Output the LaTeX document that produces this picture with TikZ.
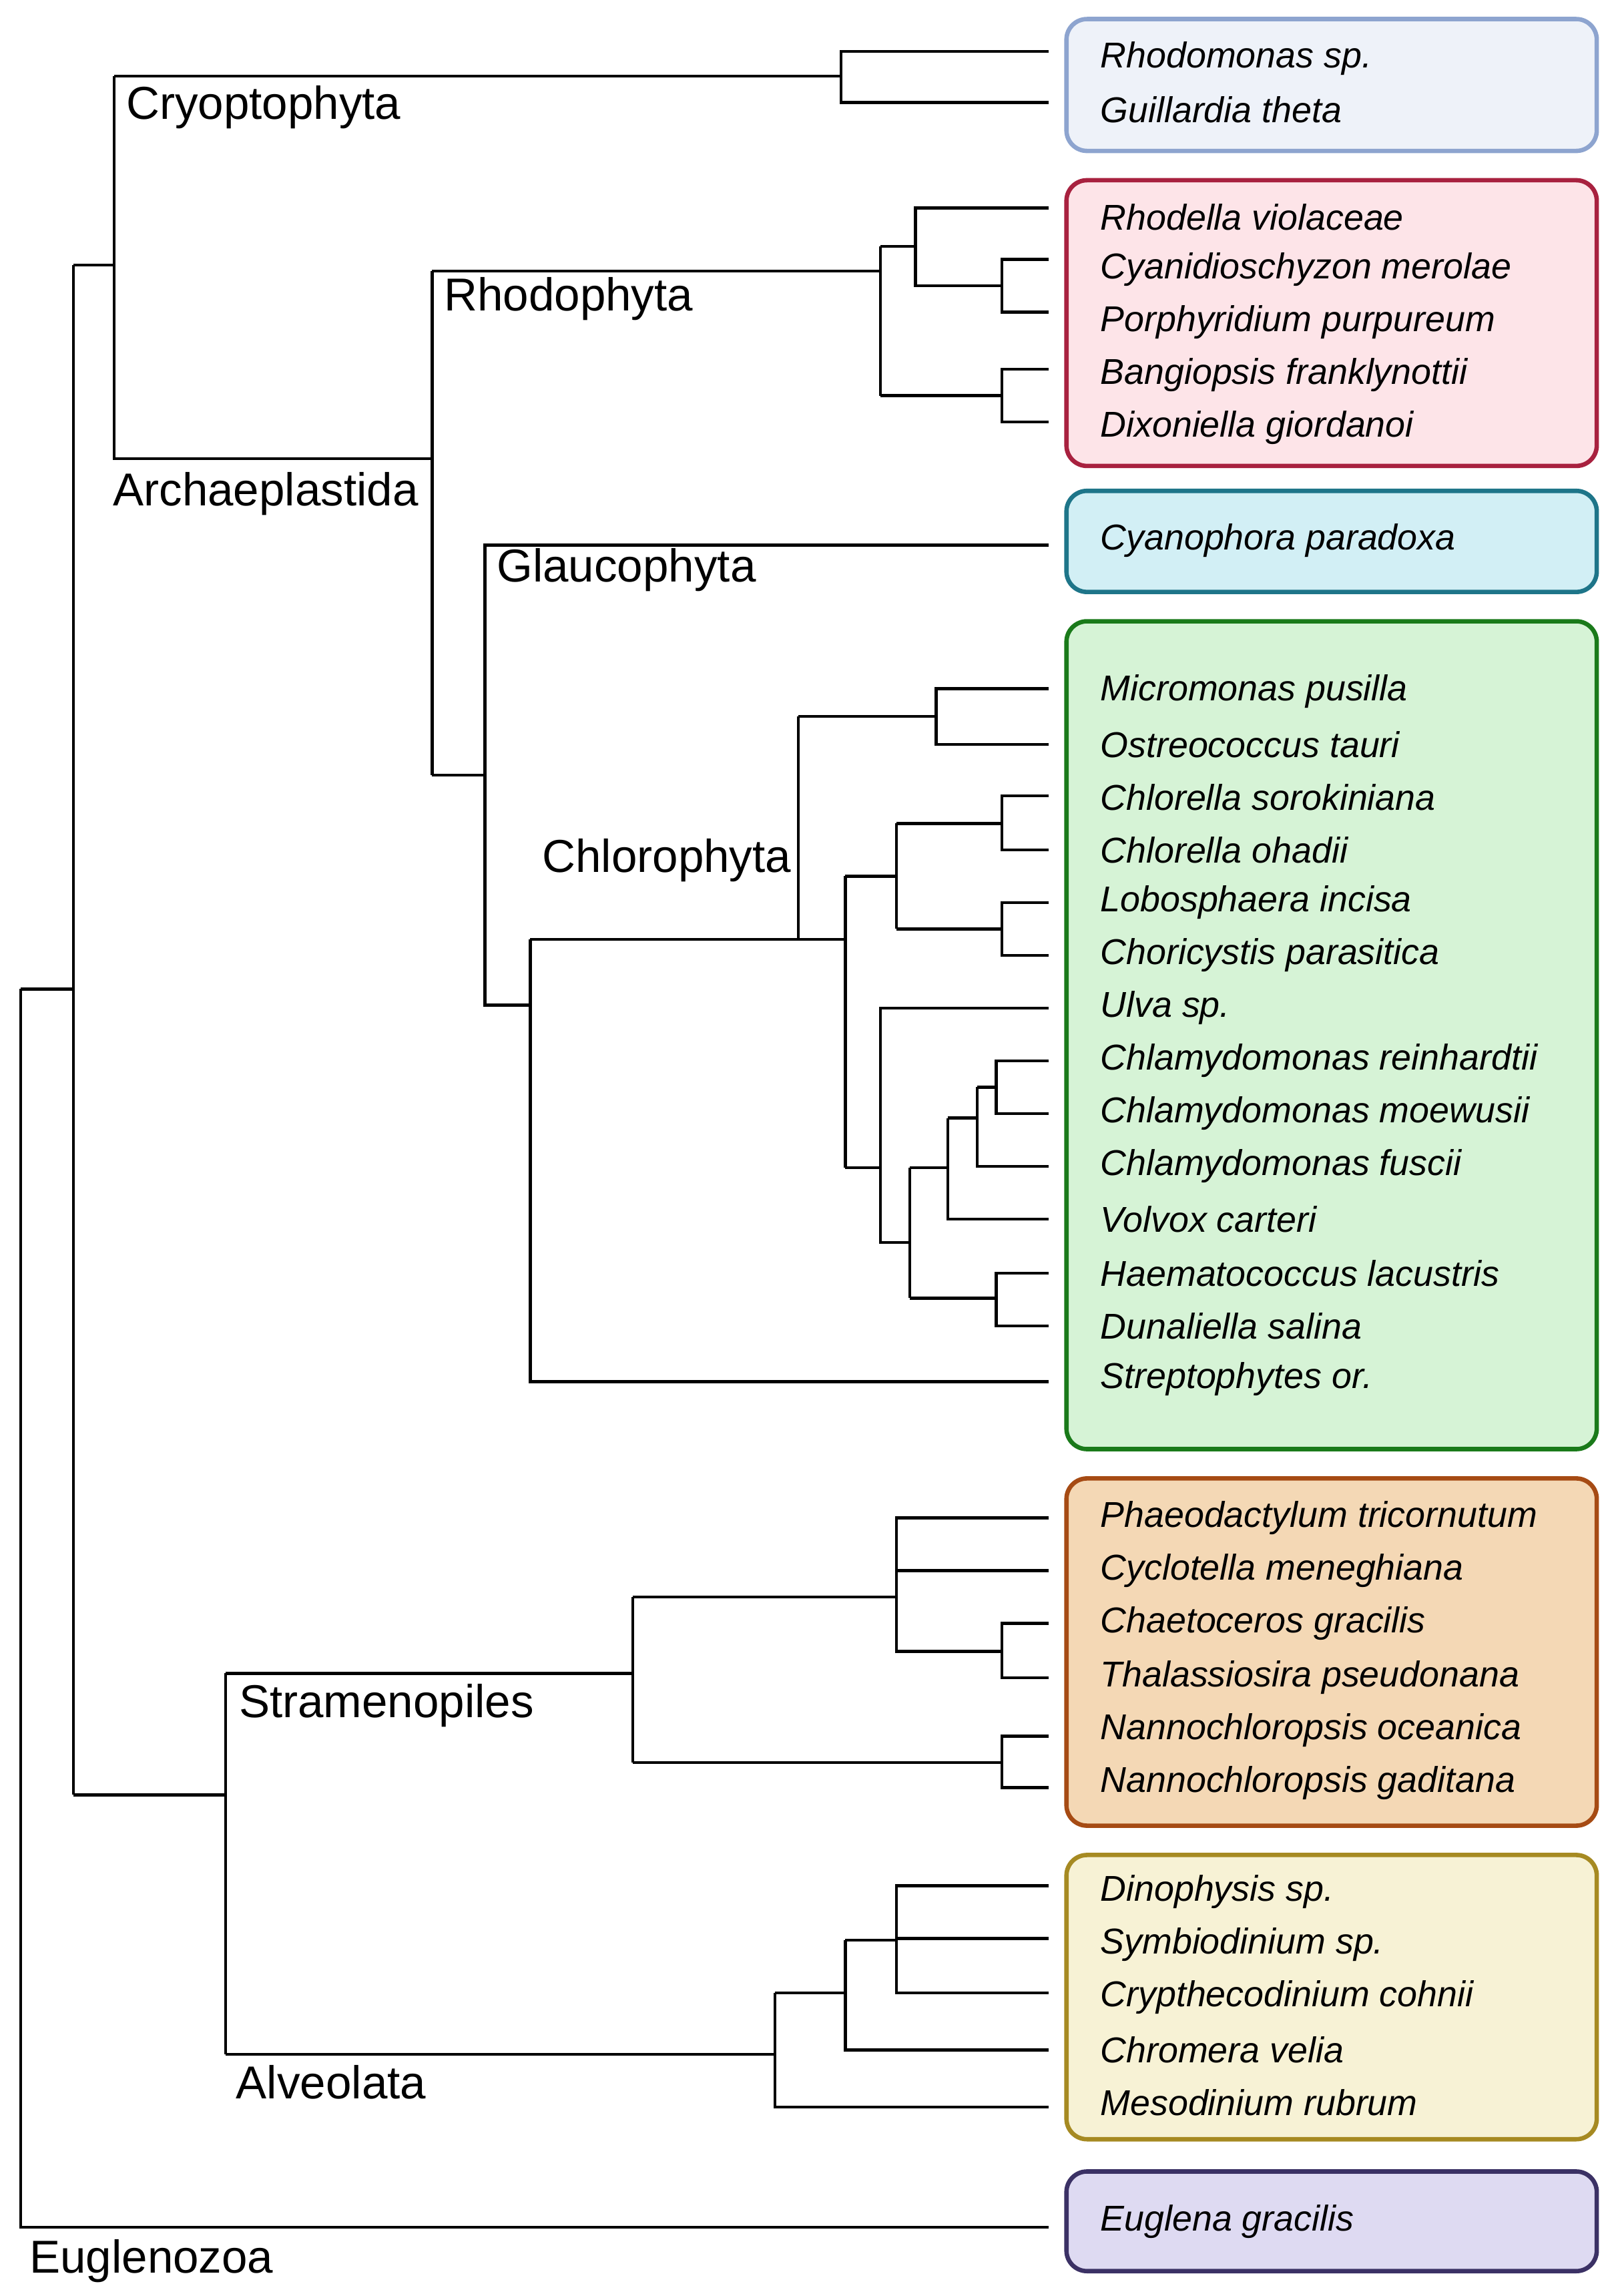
\documentclass[tikz,border=0pt]{standalone}
\usepackage{fontspec}
\setmainfont{Liberation Sans}
\begin{document}
\begin{tikzpicture}[x=1pt,y=-1pt,
  tr/.style={line width=2pt,black},
  box/.style={rounded corners=14pt,line width=3pt},
  sp/.style={anchor=west,font=\fontsize{24.5}{26}\selectfont\itshape,inner sep=0},
  cl/.style={anchor=west,font=\fontsize{31.5}{33}\selectfont,inner sep=0}]
\useasboundingbox (0,0) rectangle (1100,1567);
\definecolor{bA}{HTML}{EEF2F9}\definecolor{lA}{HTML}{8DA4CF}
\definecolor{bB}{HTML}{FDE4E8}\definecolor{lB}{HTML}{A8213F}
\definecolor{bC}{HTML}{D2EFF5}\definecolor{lC}{HTML}{1E7589}
\definecolor{bD}{HTML}{D6F3D6}\definecolor{lD}{HTML}{1A7A1A}
\definecolor{bE}{HTML}{F4D8B5}\definecolor{lE}{HTML}{A64B14}
\definecolor{bF}{HTML}{F7F2D5}\definecolor{lF}{HTML}{A68A22}
\definecolor{bG}{HTML}{DEDAF2}\definecolor{lG}{HTML}{3B3165}
\draw[box,fill=bA,draw=lA] (728,13) rectangle (1090,103);
\draw[box,fill=bB,draw=lB] (728,123) rectangle (1090,318);
\draw[box,fill=bC,draw=lC] (728,335) rectangle (1090,404);
\draw[box,fill=bD,draw=lD] (728,424) rectangle (1090,989);
\draw[box,fill=bE,draw=lE] (728,1009) rectangle (1090,1246);
\draw[box,fill=bF,draw=lF] (728,1266) rectangle (1090,1460);
\draw[box,fill=bG,draw=lG] (728,1482) rectangle (1090,1550);
% species
\foreach \n/\y in {Rhodomonas sp./40,Guillardia theta/75,Rhodella violaceae/148,Cyanidioschyzon merolae/184,Porphyridium purpureum/220,Bangiopsis franklynottii/256,Dixoniella giordanoi/292,Cyanophora paradoxa/369,Micromonas pusilla/472,Ostreococcus tauri/508,Chlorella sorokiniana/544,Chlorella ohadii/580,Lobosphaera incisa/616,Choricystis parasitica/652,Ulva sp./688,Chlamydomonas reinhardtii/724,Chlamydomonas moewusii/760,Chlamydomonas fuscii/796,Volvox carteri/832,Haematococcus lacustris/869,Dunaliella salina/905,Streptophytes or./941,Phaeodactylum tricornutum/1036,Cyclotella meneghiana/1072,Chaetoceros gracilis/1108,Thalassiosira pseudonana/1145,Nannochloropsis oceanica/1181,Nannochloropsis gaditana/1217,Dinophysis sp./1291,Symbiodinium sp./1327,Crypthecodinium cohnii/1363,Chromera velia/1399,Mesodinium rubrum/1435,Euglena gracilis/1516}
  \node[sp] at (751,\y) {\n};
% clade labels
\node[cl] (c1) at (86,73) {Cryoptophyta};
\node[cl] (c2) at (303,204) {Rhodophyta};
\node[cl] (c3) at (77,337) {Archaeplastida};
\node[cl] (c4) at (339,389) {Glaucophyta};
\node[cl] (c5) at (370,587) {Chlorophyta};
\node[cl] (c6) at (163,1164) {Stramenopiles};
\node[cl] (c7) at (161,1421) {Alveolata};
\node[cl] (c8) at (20,1543) {Euglenozoa};
% tree
\draw[tr] (14,675)--(50,675) (14,675)--(14,1520)--(716,1520);
\draw[tr] (50,181)--(50,1225) (50,181)--(78,181);
\draw[tr] (78,52)--(78,313)--(295,313);
\draw[tr] (78,52)--(574,52) (716,35)--(574,35)--(574,70)--(716,70);
\draw[tr] (295,185)--(295,529);
\draw[tr] (295,185)--(601,185) (601,168)--(601,270);
\draw[tr] (601,168)--(625,168) (716,142)--(625,142)--(625,195)--(684,195);
\draw[tr] (716,177)--(684,177)--(684,213)--(716,213);
\draw[tr] (601,270)--(684,270) (716,252)--(684,252)--(684,288)--(716,288);
\draw[tr] (295,529)--(331,529) (716,372)--(331,372)--(331,686)--(362,686);
\draw[tr] (362,641)--(362,943)--(716,943) (362,641)--(545,641);
\draw[tr] (545,489)--(545,641) (545,489)--(639,489) (716,470)--(639,470)--(639,508)--(716,508);
\draw[tr] (545,641)--(577,641) (577,598)--(577,797);
\draw[tr] (577,598)--(612,598) (612,562)--(612,634);
\draw[tr] (612,562)--(684,562) (716,543)--(684,543)--(684,580)--(716,580);
\draw[tr] (612,634)--(684,634) (716,616)--(684,616)--(684,652)--(716,652);
\draw[tr] (577,797)--(601,797) (716,688)--(601,688)--(601,848)--(621,848);
\draw[tr] (621,797)--(621,886) (621,797)--(647,797) (647,763)--(647,832)--(716,832);
\draw[tr] (647,763)--(667,763) (667,742)--(667,796)--(716,796);
\draw[tr] (667,742)--(680,742) (716,724)--(680,724)--(680,760)--(716,760);
\draw[tr] (621,886)--(680,886) (716,869)--(680,869)--(680,905)--(716,905);
\draw[tr] (50,1225)--(154,1225) (154,1142)--(154,1402);
\draw[tr] (154,1142)--(432,1142) (432,1090)--(432,1203);
\draw[tr] (432,1090)--(612,1090) (716,1036)--(612,1036)--(612,1127)--(684,1127) (612,1072)--(716,1072);
\draw[tr] (716,1108)--(684,1108)--(684,1145)--(716,1145);
\draw[tr] (432,1203)--(684,1203) (716,1185)--(684,1185)--(684,1220)--(716,1220);
\draw[tr] (154,1402)--(529,1402) (529,1360)--(529,1438)--(716,1438);
\draw[tr] (529,1360)--(577,1360) (577,1324)--(577,1399)--(716,1399);
\draw[tr] (577,1324)--(612,1324) (716,1287)--(612,1287)--(612,1360)--(716,1360) (612,1323)--(716,1323);
\end{tikzpicture}
\end{document}
